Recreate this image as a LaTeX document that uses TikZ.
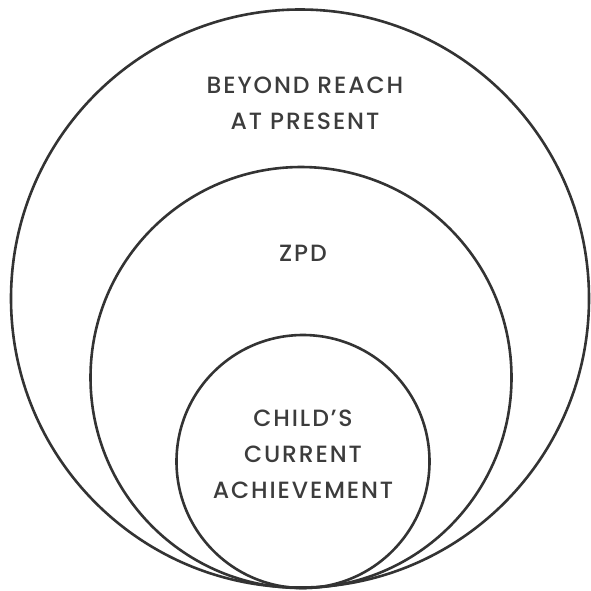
\documentclass[tikz,border=0pt]{standalone}
\usepackage{fontspec}
\newfontfamily\zonefont[LetterSpace=8, UprightFont=* Medium]{Poppins}
\definecolor{inkgray}{HTML}{333333}
\definecolor{textgray}{HTML}{3C3C3C}
\tikzset{
  ring/.style={circle, draw=inkgray, line width=2.6pt, inner sep=0pt},
  zonetext/.style={text=textgray, font=\zonefont\fontsize{23.5}{36}\selectfont, align=center}
}

\begin{document}
\begin{tikzpicture}[x=1pt, y=-1pt]
\useasboundingbox (0,0) rectangle (591,590);

\node[ring, minimum size=578pt] (beyond) at (300,298.5) {};
\node[ring, minimum size=421pt] (zpd) at (301,377.5) {};
\node[ring, minimum size=253pt] (current) at (303,461.5) {};

\node[zonetext] (beyondlabel) at (305,103) {BEYOND REACH\\AT PRESENT};
\node[zonetext] (zpdlabel) at (303,253) {ZPD};
\node[zonetext] (currentlabel) at (303,454) {CHILD’S\\CURRENT\\ACHIEVEMENT};

\end{tikzpicture}
\end{document}
